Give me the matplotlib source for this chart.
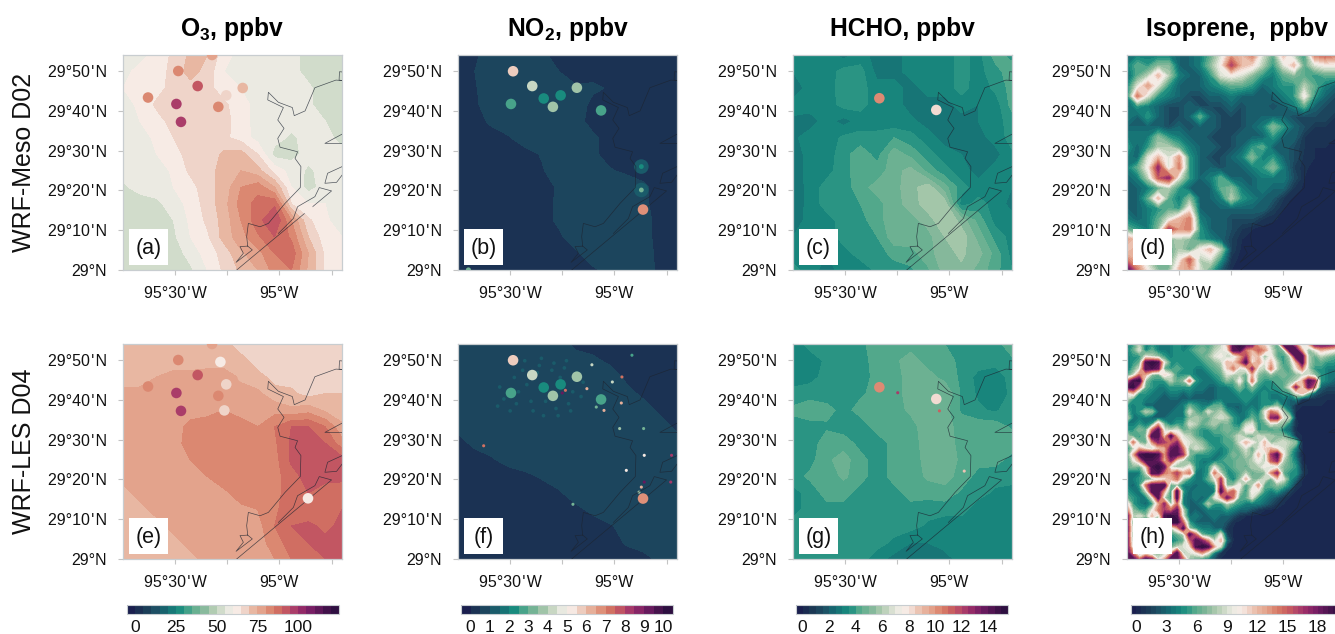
import numpy as np
import matplotlib
matplotlib.use('Agg')
import matplotlib.pyplot as plt
from matplotlib.colors import LinearSegmentedColormap, BoundaryNorm
from matplotlib.cm import ScalarMappable
from matplotlib.patches import Rectangle

plt.rcParams['font.family'] = ['Liberation Sans', 'DejaVu Sans']
plt.rcParams['mathtext.fontset'] = 'custom'
plt.rcParams['mathtext.bf'] = 'Liberation Sans:bold'
plt.rcParams['mathtext.rm'] = 'Liberation Sans'

# fields, north to south
o3_d02 = [
    [58, 58, 62, 66, 71, 70, 62, 58, 57, 55, 57, 53, 52, 52],
    [58, 62, 62, 67, 72, 68, 60, 58, 58, 57, 57, 53, 52, 52],
    [60, 62, 63, 67, 68, 67, 62, 60, 58, 57, 57, 56, 52, 52],
    [58, 61, 66, 68, 68, 67, 66, 62, 58, 57, 57, 56, 52, 52],
    [57, 60, 63, 67, 67, 67, 67, 62, 58, 57, 57, 57, 55, 52],
    [57, 58, 61, 65, 67, 67, 66, 63, 58, 57, 54, 57, 57, 53],
    [57, 57, 60, 63, 67, 67, 71, 72, 65, 53, 53, 57, 57, 57],
    [57, 57, 57, 61, 66, 68, 72, 75, 72, 63, 58, 54, 57, 56],
    [54, 57, 57, 60, 63, 68, 72, 80, 83, 75, 60, 53, 57, 57],
    [52, 52, 54, 57, 62, 67, 73, 82, 87, 89, 65, 60, 60, 57],
    [52, 52, 52, 55, 61, 66, 72, 80, 88, 95, 80, 66, 61, 57],
    [52, 52, 52, 54, 60, 64, 72, 78, 84, 90, 84, 70, 62, 60],
    [52, 52, 52, 52, 57, 62, 67, 74, 78, 85, 88, 75, 64, 60],
    [52, 52, 52, 52, 54, 60, 66, 71, 75, 82, 85, 74, 64, 60],
]
o3_d04 = [
    [72, 72, 72, 72, 72, 72, 72, 67, 67, 67, 67, 67, 67, 67],
    [72, 72, 72, 72, 72, 72, 72, 72, 67, 66, 66, 66, 66, 66],
    [72, 72, 75, 77, 77, 78, 78, 74, 72, 68, 68, 67, 67, 67],
    [77, 77, 77, 77, 77, 78, 78, 77, 76, 72, 71, 68, 70, 70],
    [77, 77, 77, 77, 77, 78, 80, 78, 76, 78, 76, 78, 74, 72],
    [77, 77, 77, 77, 82, 83, 82, 82, 80, 85, 90, 90, 85, 76],
    [77, 76, 77, 78, 82, 83, 84, 83, 82, 84, 91, 92, 90, 82],
    [76, 76, 77, 78, 80, 83, 83, 83, 84, 83, 91, 93, 93, 92],
    [76, 76, 77, 77, 78, 80, 83, 83, 84, 83, 88, 92, 92, 91],
    [74, 76, 77, 77, 78, 78, 79, 82, 84, 83, 88, 90, 87, 88],
    [73, 74, 76, 77, 77, 77, 78, 79, 80, 84, 88, 87, 86, 90],
    [72, 72, 74, 76, 77, 77, 77, 77, 78, 85, 90, 91, 89, 91],
    [72, 72, 72, 74, 76, 77, 77, 77, 78, 82, 88, 90, 91, 94],
    [72, 72, 72, 72, 74, 76, 76, 77, 77, 80, 85, 90, 90, 94],
]
no2_d02 = [
    [.3, .4, .8, .8, .8, .6, .3, .3, .3, .3, .3, .3, .3, .3],
    [.3, .5, .8, .8, .8, .8, .5, .3, .3, .3, .3, .3, .3, .3],
    [.3, .45, .8, .8, .8, .8, .8, .55, .6, .45, .3, .3, .3, .3],
    [.3, .4, .8, .8, .8, .8, .8, .8, .35, .3, .3, .3, .3, .3],
    [.3, .3, .6, .8, .8, .8, .8, .7, .3, .3, .3, .3, .3, .3],
    [.3, .3, .3, .45, .8, .8, .8, .8, .6, .3, .3, .3, .3, .3],
    [.3, .3, .3, .3, .3, .55, .8, .8, .6, .3, .3, .3, .3, .3],
    [.3, .3, .3, .3, .3, .45, .8, .8, .8, .55, .4, .3, .3, .3],
    [.3, .3, .3, .3, .3, .35, .55, .8, .8, .8, .8, .6, .3, .3],
    [.3, .3, .3, .3, .3, .3, .6, .8, .8, .8, .8, .6, .3, .3],
    [.3, .3, .3, .3, .3, .3, .6, .8, .8, .8, .8, .7, .3, .3],
    [.3, .3, .3, .3, .3, .3, .4, .8, .8, .8, .8, .7, .3, .3],
    [.3, .3, .3, .3, .3, .3, .3, .4, .8, .8, .8, .8, .3, .3],
    [.3, .3, .3, .3, .3, .3, .3, .3, .4, .7, .8, .8, .35, .3],
]
no2_d04 = [
    [.8, .8, .8, .8, .8, .8, .7, .35, .3, .3, .3, .3, .3, .3],
    [.8, .8, .8, .9, .95, .95, .9, .75, .6, .4, .3, .3, .3, .3],
    [.8, .8, .95, .95, .95, .95, .95, .9, .8, .75, .4, .3, .3, .3],
    [.8, .8, .95, .95, .95, .95, .95, .95, .8, .8, .65, .4, .3, .3],
    [.7, .8, .95, .95, .95, .95, .95, .9, .8, .9, .8, .7, .4, .3],
    [.6, .7, .8, .9, .9, .8, .8, .8, .8, .8, .8, .8, .7, .4],
    [.35, .6, .7, .8, .8, .8, .8, .8, .8, .8, .8, .8, .8, .7],
    [.3, .3, .45, .65, .75, .8, .8, .8, .8, .8, .8, .8, .8, .8],
    [.3, .3, .3, .3, .4, .55, .7, .8, .8, .8, .8, .8, .8, .8],
    [.3, .3, .3, .3, .3, .3, .45, .7, .8, .8, .8, .8, .8, .8],
    [.3, .3, .3, .3, .3, .3, .3, .4, .6, .8, .8, .8, .8, .8],
    [.3, .3, .3, .3, .3, .3, .3, .3, .3, .45, .65, .8, .8, .8],
    [.3, .3, .3, .3, .3, .3, .3, .3, .3, .3, .55, .7, .8, .8],
    [.3, .3, .3, .3, .3, .3, .3, .3, .3, .3, .3, .35, .6, .8],
]
hcho_d02 = [
    [3.2, 3.2, 3.2, 2.8, 3.2, 2.8, 2.8, 3.2, 3.2, 3.2, 3.7, 3.3, 4.2, 3.8],
    [3.0, 3.2, 3.2, 3.7, 3.7, 2.8, 2.8, 3.2, 3.2, 3.2, 3.7, 3.3, 3.8, 4.3],
    [2.7, 3.2, 3.2, 3.8, 3.7, 3.2, 3.2, 2.8, 3.2, 3.2, 3.7, 3.2, 3.6, 4.2],
    [3.2, 3.2, 3.2, 3.7, 3.7, 3.2, 3.2, 2.8, 2.8, 2.8, 3.2, 3.0, 3.2, 4.2],
    [2.9, 2.8, 3.2, 2.8, 3.2, 3.2, 3.1, 3.1, 2.8, 2.8, 2.8, 3.0, 3.3, 3.7],
    [2.9, 3.2, 3.2, 3.6, 3.7, 3.7, 4.0, 3.7, 3.2, 2.8, 2.8, 2.8, 3.2, 3.7],
    [2.7, 3.2, 3.2, 3.8, 4.3, 3.8, 4.8, 4.3, 3.7, 3.2, 3.0, 2.7, 2.8, 3.4],
    [2.7, 3.2, 3.3, 3.8, 4.3, 4.2, 4.8, 5.2, 4.3, 3.7, 3.2, 2.8, 3.2, 3.3],
    [2.6, 3.2, 3.7, 3.7, 4.3, 4.7, 4.8, 5.3, 5.8, 4.7, 3.7, 3.2, 3.3, 3.0],
    [2.6, 3.2, 3.7, 3.7, 4.0, 4.3, 4.8, 5.2, 5.8, 5.8, 3.2, 3.7, 3.3, 2.8],
    [2.7, 3.2, 3.3, 3.7, 3.8, 4.3, 4.8, 4.8, 5.2, 6.0, 5.3, 4.3, 3.3, 3.2],
    [3.0, 3.2, 3.2, 3.7, 3.7, 4.0, 4.8, 4.8, 4.8, 5.5, 5.8, 4.8, 3.8, 3.3],
    [3.2, 3.2, 3.0, 3.3, 3.7, 3.7, 4.2, 4.3, 4.8, 5.3, 5.6, 5.2, 4.3, 3.3],
    [3.7, 3.2, 2.8, 3.2, 3.2, 3.6, 3.7, 3.9, 4.4, 5.2, 5.4, 4.8, 4.2, 3.5],
]
hcho_d04 = [
    [3.2, 3.7, 3.7, 3.7, 3.8, 4.4, 4.3, 4.3, 4.3, 4.0, 3.7, 3.8, 3.8, 4.3],
    [3.2, 3.2, 3.6, 3.7, 3.8, 4.2, 4.4, 4.7, 4.3, 4.3, 3.8, 3.8, 3.7, 3.9],
    [3.2, 3.3, 3.7, 3.7, 3.7, 4.2, 4.3, 4.7, 4.7, 4.3, 3.9, 3.3, 3.2, 3.7],
    [3.7, 3.8, 3.7, 3.8, 3.9, 4.2, 4.3, 4.7, 4.8, 5.0, 3.9, 3.4, 3.2, 3.6],
    [4.1, 4.3, 4.2, 3.8, 4.2, 4.2, 4.3, 4.6, 4.8, 4.7, 3.9, 3.6, 3.4, 3.8],
    [3.8, 3.8, 3.9, 3.7, 3.7, 4.2, 4.3, 4.3, 4.8, 4.7, 4.3, 4.3, 4.3, 3.9],
    [3.7, 3.7, 4.3, 4.3, 3.8, 3.7, 4.2, 4.3, 4.7, 4.8, 4.3, 4.3, 4.2, 4.3],
    [3.7, 3.8, 4.4, 4.7, 4.2, 3.7, 4.2, 4.2, 4.7, 4.8, 4.4, 4.2, 4.2, 3.8],
    [3.8, 4.1, 4.2, 4.6, 4.2, 3.7, 4.2, 4.2, 4.6, 4.7, 4.3, 3.8, 3.7, 3.7],
    [3.3, 3.7, 4.2, 4.2, 3.8, 3.6, 3.8, 4.2, 4.2, 4.3, 3.9, 3.7, 3.4, 3.3],
    [3.3, 3.7, 3.8, 3.8, 3.7, 3.7, 3.7, 3.8, 3.7, 3.7, 3.7, 3.2, 3.2, 3.2],
    [3.7, 3.7, 3.7, 3.7, 3.6, 3.7, 3.7, 3.7, 3.4, 3.2, 3.2, 3.2, 3.1, 3.2],
    [3.7, 3.7, 3.7, 3.7, 3.7, 3.7, 3.4, 3.0, 3.0, 3.1, 3.1, 3.2, 3.2, 3.2],
    [3.7, 3.7, 3.7, 3.7, 3.7, 3.2, 2.8, 2.7, 2.8, 2.9, 3.1, 3.1, 3.1, 3.1],
]
iso_d02 = [
    [3, 4, 4, 4, 4, 3, 3, 4, 6, 9, 13, 12, 14, 9, 6, 12, 8, 5, 14, 15, 14, 10],
    [4, 6, 5, 7, 7, 3, 3, 4, 7, 10, 16, 12, 11, 8, 5, 9, 12, 6, 9, 10, 10, 9],
    [3, 6, 8, 12, 8, 4, 3, 3, 5, 9, 10, 9, 7, 5, 4, 6, 7, 6, 5, 6, 6, 5],
    [4, 9, 13, 9, 5, 3, 3, 3, 4, 5, 6, 6, 5, 3, 4, 5, 5, 8, 6, 4, 3, 3],
    [4, 14, 9, 5, 4, 3, 2, 2, 3, 3, 4, 3, 3, 3, 3, 4, 5, 10, 5, 3, 2, 2],
    [3, 5, 4, 3, 2, 2, 3, 2, 2, 2, 3, 2, 3, 3, 2, 3, 4, 6, 3, 2, 2, 2],
    [4, 3, 5, 3, 2, 2, 3, 6, 3, 2, 2, 2, 3, 3, 3, 3, 2, 2, 2, 2, 1, 1],
    [3, 3, 3, 3, 2, 3, 2, 3, 3, 2, 2, 2, 3, 4, 7, 5, 3, 2, 1, 1, 1, 1],
    [4, 4, 4, 7, 5, 4, 3, 3, 2, 2, 2, 3, 3, 3, 5, 3, 3, 1, 1, 1, .5, .5],
    [5, 3, 5, 8, 8, 6, 4, 3, 3, 2, 2, 3, 5, 6, 3, 3, 2, 1, .5, .5, .5, .5],
    [4, 3, 9, 12, 9, 13, 5, 3, 2, 2, 3, 4, 7, 4, 5, 3, 2, .8, .5, .5, .5, .5],
    [4, 6, 10, 17, 9, 14, 5, 3, 3, 2, 3, 3, 4, 5, 7, 4, 1.5, .6, .3, .3, .2, .3],
    [3, 4, 8, 15, 17, 9, 5, 3, 4, 6, 3, 3, 3, 4, 4, 4, 2, .5, .3, .2, .2, .2],
    [3, 3, 4, 6, 8, 5, 3, 3, 3, 6, 7, 4, 3, 4, 3, 3, 1, .3, .2, .2, .2, .2],
    [3, 3, 6, 12, 6, 4, 7, 3, 3, 4, 8, 5, 4, 3, 2.5, 1, .3, .2, .2, .2, .2, .2],
    [3, 3, 4, 5, 6, 5, 10, 3, 3, 3, 3, 3, 3, 3, 1.5, .5, .2, .2, .2, .2, .2, .2],
    [4, 3, 4, 6, 9, 12, 14, 4, 3, 3, 2, 2, 2, 1, .6, .3, .2, .2, .2, .2, .2, .2],
    [6, 5, 4, 7, 16, 13, 14, 5, 3, 3, 2, 1, .5, .2, .2, .2, .2, .2, .2, .2, .2, .2],
    [13, 11, 6, 6, 7, 8, 7, 5, 4, 3, 1.5, .5, .2, .2, .2, .2, .2, .2, .2, .2, .2, .2],
    [11, 13, 6, 5, 6, 8, 6, 10, 12, 8, 1.5, .3, .2, .2, .2, .2, .2, .2, .2, .2, .2, .2],
    [14, 12, 8, 6, 6, 10, 15, 8, 9, 5, .8, .2, .2, .2, .2, .2, .2, .2, .2, .2, .2, .2],
    [19, 14, 10, 7, 7, 12, 13, 9, 6, 2.5, .5, .2, .2, .2, .2, .2, .2, .2, .2, .2, .2, .2],
]
# short rows: the rest of the row is open water, see iso_water
iso_water = .3
iso_d04 = [
    [4, 5, 8, 4, 5, 4, 4, 4, 5, 4, 4, 5, 6, 5, 7, 8, 12, 19, 20, 19, 19, 12, 11, 8, 6, 19, 19, 14, 8, 12, 19, 19, 19, 18, 15, 12],
    [4, 6, 9, 4, 6, 4, 4, 4, 5, 4, 5, 6, 7, 6, 8, 9, 10, 19, 19, 14, 12, 15, 13, 9, 6, 7, 19, 19, 12, 7, 9, 12, 11, 10, 9, 8],
    [4, 5, 5, 9, 8, 7, 5, 4, 5, 5, 5, 5, 6, 7, 9, 10, 8, 9, 12, 16, 11, 12, 7, 10, 6, 5, 8, 19, 19, 8, 6, 8, 7, 6, 5, 5],
    [4, 5, 6, 19, 20, 19, 9, 5, 5, 5, 5, 5, 5, 6, 7, 8, 12, 11, 14, 19, 10, 13, 9, 12, 8, 5, 7, 12, 19, 8, 6, 6, 5, 5, 4, 4],
    [3, 6, 9, 19, 19, 18, 6, 5, 6, 5, 5, 4, 4, 5, 6, 7, 11, 14, 9, 10, 17, 9, 8, 14, 8, 6, 6, 10, 14, 8, 5, 5, 4, 4, 4, 4],
    [5, 8, 14, 12, 7, 6, 11, 9, 5, 5, 5, 4, 4, 4, 5, 6, 9, 8, 8, 6, 12, 7, 6, 7, 6, 7, 6, 7, 8, 9, 7, 5, 4, 4, 3, 3],
    [14, 19, 20, 7, 5, 5, 5, 8, 6, 7, 14, 5, 4, 4, 4, 5, 7, 6, 10, 5, 14, 6, 5, 5, 6, 6, 7, 8, 12, 19, 17, 5, 4, 3, 3, 3],
    [19, 20, 14, 6, 5, 4, 4, 5, 5, 5, 5, 4, 4, 3, 3, 4, 4, 5, 7, 5, 7, 5, 4, 5, 5, 6, 9, 17, 10, 18, 14, 3, 2, 2, 2, 2],
    [10, 12, 5, 5, 4, 4, 3, 4, 4, 3, 4, 3, 3, 3, 3, 4, 4, 4, 5, 5, 5, 4, 5, 4, 4, 5, 5, 9, 12, 7, 3, 1.5, 1, 1, 1, 1],
    [8, 5, 5, 4, 4, 3, 3, 3, 3, 3, 3, 3, 3, 2.5, 3, 4, 4, 4, 4, 5, 4, 4, 5, 4, 4, 4, 3, 4, 1, .8, .6, .6, .5, .5, .5, .5],
    [5, 4, 5, 3, 3, 3, 3, 3, 3, 4, 6, 5, 4, 4, 6, 6, 3, 3, 3, 4, 4, 4, 5, 5, 7, 4, 3, .8, .5, .5, .5, .5, .5, .5, .5, .5],
    [6, 4, 5, 8, 7, 3, 3, 3, 4, 4, 9, 6, 5, 9, 7, 8, 5, 4, 3, 4, 5, 4, 9, 14, 12, 8, 4, .5],
    [8, 4, 4, 4, 3, 3, 3, 4, 4, 4, 7, 8, 7, 6, 8, 9, 8, 5, 4, 4, 6, 5, 8, 17, 18, 9, 8, .5],
    [4, 4, 5, 4, 5, 12, 6, 4, 5, 5, 9, 8, 6, 7, 8, 6, 7, 5, 4, 8, 9, 5, 6, 9, 8, 7, 4, .6],
    [5, 5, 7, 6, 14, 19, 9, 8, 9, 6, 7, 6, 5, 5, 6, 6, 7, 6, 6, 10, 11, 5, 6, 5, 6, 4, 3, .5],
    [8, 6, 5, 7, 19, 19, 11, 19, 12, 9, 8, 6, 5, 5, 5, 5, 6, 7, 9, 7, 6, 9, 8, 8, 7, 7, 5, 1, .4],
    [6, 14, 7, 6, 13, 17, 16, 14, 17, 10, 9, 8, 7, 5, 5, 5, 6, 6, 9, 12, 10, 8, 12, 7, 8, 9, 8, 7, .5],
    [4, 8, 12, 10, 8, 11, 12, 18, 19, 14, 7, 9, 8, 6, 5, 4, 5, 6, 7, 9, 6, 9, 11, 12, 10, 9, 7, 4, .5],
    [5, 12, 19, 20, 20, 19, 13, 19, 19, 16, 7, 5, 5, 5, 4, 4, 5, 7, 6, 8, 7, 12, 8, 16, 19, 10, 6, 3, .4],
    [5, 9, 13, 19, 19, 18, 12, 17, 10, 8, 6, 5, 4, 4, 4, 5, 6, 6, 7, 7, 8, 10, 8, 15, 17, 8, 6, 4, .5],
    [6, 7, 6, 11, 19, 20, 18, 9, 7, 8, 10, 5, 4, 5, 9, 6, 5, 6, 7, 6, 8, 8, 10, 8, 9, 7, 6, 5, 1],
    [4, 4, 4, 8, 19, 19, 14, 13, 16, 12, 14, 4, 4, 5, 14, 8, 5, 5, 6, 8, 6, 7, 7, 13, 17, 6, 5, 5, 1.5],
    [4, 4, 5, 6, 7, 9, 10, 12, 14, 8, 5, 4, 4, 6, 9, 16, 6, 4, 7, 12, 7, 7, 9, 6, 11, 9, 5, 3, .5],
    [4, 3, 5, 14, 19, 19, 19, 6, 7, 4, 4, 3, 4, 4, 5, 17, 7, 7, 10, 5, 8, 13, 6, 6, 7, 6, 4, 1, .4],
    [5, 4, 4, 8, 19, 19, 12, 5, 19, 5, 3, 4, 4, 4, 4, 19, 12, 15, 8, 5, 10, 9, 5, 4, 5, 3, 1.5, .4],
    [6, 5, 4, 4, 9, 19, 8, 5, 19, 4, 3, 4, 3, 4, 9, 12, 18, 14, 6, 6, 9, 5, 4, 3, 2, 1, .4],
    [11, 5, 4, 3, 5, 12, 17, 7, 14, 4, 3, 3, 4, 8, 5, 5, 8, 6, 5, 4, 4, 4, 3, 2, 1, .5],
    [14, 7, 5, 5, 9, 14, 16, 14, 18, 8, 3, 3, 3, 4, 4, 4, 5, 4, 3, 3, 2, 1, .5],
    [19, 8, 9, 7, 12, 8, 19, 20, 19, 9, 3, 4, 3, 3, 4, 3, 3, 2, 1, .5],
    [19, 5, 5, 6, 5, 7, 19, 20, 20, 14, 5, 3, 3, 3, 3, 3, 2, .6],
    [19, 7, 5, 5, 4, 5, 6, 8, 12, 19, 7, 5, 4, 4, 3, 3, 1, .4],
    [19, 6, 5, 4, 4, 4, 5, 5, 6, 8, 19, 14, 6, 5, 5, 9, 1.5, .4],
    [19, 7, 5, 4, 4, 5, 5, 4, 5, 6, 14, 19, 17, 13, 8, 12, 3, .4],
    [19, 8, 6, 5, 5, 6, 7, 6, 8, 9, 10, 19, 20, 19, 12, 8, .8],
    [19, 13, 6, 9, 6, 7, 8, 12, 19, 8, 9, 10, 13, 9, 4, 1],
    [19, 19, 14, 19, 17, 9, 12, 19, 19, 14, 7, 6, 5, 4, 1.5],
]
iso_d04 = [row + [iso_water] * (36 - len(row)) for row in iso_d04]

# stations
o3_lon = [-95.323, -95.485, -95.283, -95.392, -95.176, -95.255, -95.630, -95.494, -95.293, -95.264, -95.472, -94.863]
o3_lat = [29.900, 29.833, 29.825, 29.770, 29.762, 29.731, 29.722, 29.695, 29.683, 29.622, 29.620, 29.254]
o3_obs = [78, 82, 62, 92, 70, 68, 82, 98, 82, 65, 98, 62]
no2_lon = [-95.486, -95.394, -95.180, -95.258, -95.339, -95.496, -95.295, -95.064, -94.863]
no2_lat = [29.832, 29.770, 29.763, 29.731, 29.718, 29.695, 29.683, 29.668, 29.253]
no2_obs = [5.8, 4.0, 3.7, 2.0, 2.2, 2.6, 3.6, 2.7, 6.5]
hcho_lon = [-95.336, -95.063]
hcho_lat = [29.719, 29.670]
hcho_obs = [10, 8]

# point source plumes and the urban speckle around them
no2_d02_lon = [-94.871, -94.871, -94.871, -94.871, -95.700]
no2_d02_lat = [29.433, 29.433, 29.335, 29.335, 29.0]
no2_d02_val = [1.2, 2, 1.2, 3, 3]
no2_d02_size = [110, 12, 110, 12, 14]
no2_d04_lon = [-95.250, -95.235, -95.050, -95.010, -94.964, -95.132, -94.975, -94.860, -95.627, -94.857, -94.726,
               -94.943, -94.857, -94.871, -94.882, -94.730, -95.199, -95.108, -94.916, -94.967, -95.087,
               -95.55, -95.48, -95.42, -95.37, -95.31, -95.26, -95.20, -95.15, -95.53, -95.46, -95.40,
               -95.33, -95.28, -95.22, -95.16, -95.56, -95.50, -95.44, -95.36, -95.30, -95.24, -95.18,
               -95.47, -95.39, -95.34, -95.27, -95.21, -95.43, -95.35, -95.29, -95.23]
no2_d04_lat = [29.695, 29.706, 29.622, 29.741, 29.762, 29.713, 29.546, 29.546, 29.474, 29.434, 29.434,
               29.371, 29.322, 29.301, 29.280, 29.322, 29.229, 29.813, 29.853, 29.653, 29.636,
               29.72, 29.76, 29.73, 29.78, 29.69, 29.76, 29.70, 29.74, 29.67, 29.70, 29.66,
               29.66, 29.63, 29.65, 29.68, 29.64, 29.62, 29.79, 29.81, 29.79, 29.80, 29.78,
               29.65, 29.62, 29.60, 29.60, 29.62, 29.83, 29.84, 29.82, 29.83]
no2_d04_val = [9, 7, 6, 4, 7, 6, 3.5, 3, 7, 5, 8, 5, 9, 6, 3.5, 8, 3, 4, 2.5, 6, 3,
               1.2, 1.2, 1.2, 1.2, 1.2, 1.2, 1.2, 1.2, 1.2, 1.2, 1.2,
               1.2, 1.2, 1.2, 1.2, 1.2, 1.2, 1.2, 1.2, 1.2, 1.2, 1.2,
               1.2, 1.2, 1.2, 1.2, 1.2, 1.2, 1.2, 1.2, 1.2]
no2_d04_size = [5] * 21 + [7] * 31
hcho_d04_lon = [-95.248, -95.048, -94.929]
hcho_d04_lat = [29.696, 29.620, 29.368]
hcho_d04_val = [12, 11, 8.5]
hcho_d04_size = [5, 5, 5]

# county lines and coast
coast_main = [(-94.699, 29.793), (-94.729, 29.795), (-94.830, 29.763), (-94.877, 29.666), (-94.929, 29.646),
              (-94.938, 29.680), (-95.005, 29.702), (-95.053, 29.744), (-95.056, 29.712), (-94.981, 29.680),
              (-95.008, 29.628), (-94.978, 29.593), (-95.008, 29.551), (-94.997, 29.514), (-94.913, 29.495),
              (-94.925, 29.467), (-94.897, 29.433), (-94.900, 29.345), (-94.973, 29.279), (-95.053, 29.195),
              (-95.093, 29.181), (-95.149, 29.195), (-95.157, 29.140), (-95.152, 29.100), (-95.189, 29.098),
              (-95.173, 29.070), (-95.208, 29.032), (-95.130, 29.084), (-95.152, 29.100)]
coast_island = [(-95.205, 29.000), (-94.750, 29.331), (-94.809, 29.345), (-94.830, 29.307), (-94.913, 29.265),
                (-94.933, 29.216), (-95.005, 29.153)]
coast_east = [(-94.699, 29.398), (-94.726, 29.367), (-94.782, 29.363), (-94.769, 29.405), (-94.699, 29.433)]
coast_tri = [(-94.699, 29.569), (-94.782, 29.530), (-94.699, 29.530)]
coast_top = [(-94.699, 29.829), (-94.712, 29.830), (-94.714, 29.795), (-94.699, 29.793)]

# map and colour bar settings
lon_min, lon_max = -95.75, -94.70
lat_min, lat_max = 29.0, 29.9
lon_ticks = [-95.5, -95.25, -95.0, -94.75]
lon_labels = ["95°30\u200a'\u200aW", '', '95°W', '']
lat_ticks = [29, 29 + 1 / 6, 29 + 2 / 6, 29 + 3 / 6, 29 + 4 / 6, 29 + 5 / 6]
lat_labels = ['29°N', "29°10\u200a'\u200aN", "29°20\u200a'\u200aN", "29°30\u200a'\u200aN", "29°40\u200a'\u200aN", "29°50\u200a'\u200aN"]

curl = LinearSegmentedColormap.from_list('curl_like', [
    (0, '#1a1f4e'), (.068, '#1b3a55'), (.114, '#1d4d63'), (.17, '#166a72'), (.234, '#188a7e'),
    (.266, '#349a86'), (.297, '#5aac8d'), (.345, '#7db597'), (.39, '#a9c8ac'), (.44, '#d2dccb'),
    (.48, '#ecebe3'), (.519, '#f7ebe5'), (.558, '#efd3c8'), (.596, '#e9b9a4'), (.635, '#e4a68f'),
    (.673, '#dd8b74'), (.712, '#d27262'), (.75, '#c65a60'), (.79, '#b0436a'), (.827, '#9a2d68'),
    (.885, '#721c63'), (.96, '#3f1148'), (1, '#2d0f40')], N=256)

fig_w, fig_h = 1335, 634
panel_lefts = [123, 458, 793, 1127]
bar_lefts = [127, 461, 796, 1131]
row_tops = [55, 344]
panel_w, panel_h = 219, 215

species = [
    {'title': r'O$_{\mathbf{3}}$, ppbv', 'levels': np.arange(-5, 125.1, 5), 'ticks': [0, 25, 50, 75, 100],
     'fields': (o3_d02, o3_d04), 'obs': (o3_lon, o3_lat, o3_obs),
     'spots': (None, None)},
    {'title': r'NO$_{\mathbf{2}}$, ppbv', 'levels': np.arange(-.5, 10.51, .5), 'ticks': list(range(11)),
     'fields': (no2_d02, no2_d04), 'obs': (no2_lon, no2_lat, no2_obs),
     'spots': ((no2_d02_lon, no2_d02_lat, no2_d02_val, no2_d02_size),
               (no2_d04_lon, no2_d04_lat, no2_d04_val, no2_d04_size))},
    {'title': 'HCHO, ppbv', 'levels': np.arange(-.5, 15.51, .5), 'ticks': [0, 2, 4, 6, 8, 10, 12, 14],
     'fields': (hcho_d02, hcho_d04), 'obs': (hcho_lon, hcho_lat, hcho_obs),
     'spots': (None, (hcho_d04_lon, hcho_d04_lat, hcho_d04_val, hcho_d04_size))},
    {'title': 'Isoprene,  ppbv', 'levels': np.arange(-.5, 20.51, .5), 'ticks': [0, 3, 6, 9, 12, 15, 18],
     'fields': (iso_d02, iso_d04), 'obs': None,
     'spots': (None, None)},
]
row_names = ['WRF-Meso D02', 'WRF-LES D04']
panel_tags = ['(a)', '(b)', '(c)', '(d)', '(e)', '(f)', '(g)', '(h)']


def px_axes(left, top, width, height):
    return [left / fig_w, 1 - (top + height) / fig_h, width / fig_w, height / fig_h]


def draw_panel(ax, field, spec, spots, tag):
    z = np.array(field, dtype=float)
    lons = np.linspace(lon_min, lon_max, z.shape[1])
    lats = np.linspace(lat_max, lat_min, z.shape[0])
    norm = BoundaryNorm(spec['levels'], curl.N)
    ax.contourf(lons, lats, z, levels=spec['levels'], cmap=curl, norm=norm, extend='both')
    if spots is not None:
        ax.scatter(spots[0], spots[1], c=spots[2], s=spots[3], cmap=curl, norm=norm, linewidths=0, zorder=3)
    for line in [coast_main, coast_island, coast_east, coast_tri, coast_top]:
        pts = np.array(line)
        ax.plot(pts[:, 0], pts[:, 1], color='#1c2430', lw=0.5, alpha=0.75, zorder=4)
    if spec['obs'] is not None:
        lon, lat, val = spec['obs']
        ax.scatter(lon, lat, c=val, s=58, cmap=curl, norm=norm, linewidths=0, zorder=5)

    ax.set_xlim(lon_min, lon_max)
    ax.set_ylim(lat_min, lat_max)
    ax.set_xticks(lon_ticks, lon_labels)
    ax.set_yticks(lat_ticks, lat_labels)
    ax.tick_params(length=3.6, width=0.8, color='#c4c4c4', pad=8, labelsize=11.5, labelcolor='#111111')
    for spine in ax.spines.values():
        spine.set_color('#c8cdd0')
        spine.set_linewidth(0.9)

    ax.add_patch(Rectangle((0.027, 0.023), 0.178, 0.167, transform=ax.transAxes, fc='white', ec='none', zorder=6))
    ax.text(0.116, 0.1, tag, transform=ax.transAxes, ha='center', va='center', fontsize=15.5, color='#111111', zorder=7)


fig = plt.figure(figsize=(fig_w / 100, fig_h / 100), dpi=100)

for col, spec in enumerate(species):
    for row in range(2):
        ax = fig.add_axes(px_axes(panel_lefts[col], row_tops[row], panel_w, panel_h))
        draw_panel(ax, spec['fields'][row], spec, spec['spots'][row], panel_tags[row * 4 + col])
        if row == 0:
            ax.set_title(spec['title'], fontsize=17.7, fontweight='bold', pad=14)

    cax = fig.add_axes(px_axes(bar_lefts[col], 605, 212, 9))
    sm = ScalarMappable(norm=BoundaryNorm(spec['levels'], curl.N), cmap=curl)
    cb = fig.colorbar(sm, cax=cax, orientation='horizontal', spacing='uniform')
    cb.set_ticks(spec['ticks'])
    cb.set_ticklabels([str(t) for t in spec['ticks']])
    cb.ax.tick_params(length=0, pad=4, labelsize=12.5, labelcolor='#111111')
    cb.ax.minorticks_off()
    cb.outline.set_edgecolor('#c8cdd0')
    cb.outline.set_linewidth(0.8)

for row, name in enumerate(row_names):
    fig.text(24 / fig_w, 1 - (row_tops[row] + panel_h / 2) / fig_h, name, rotation=90,
             ha='center', va='center', fontsize=18, color='#111111')

fig.savefig('out.png', dpi=100)
